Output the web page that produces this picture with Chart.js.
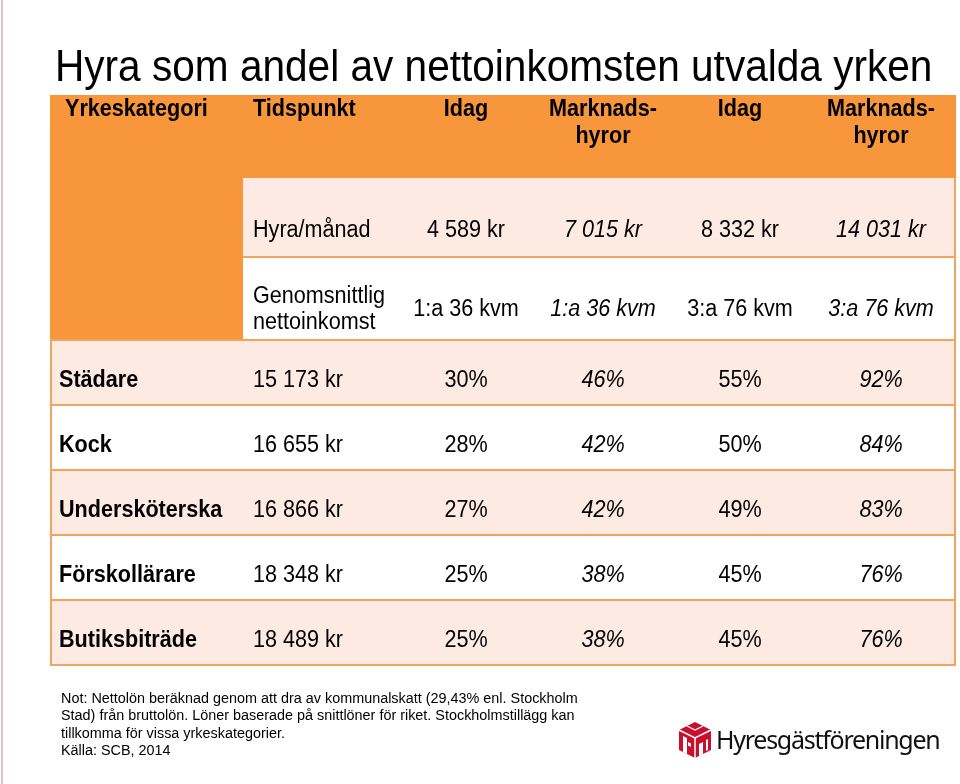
<!DOCTYPE html>
<html>
<head>
<meta charset="utf-8">
<script src="https://cdn.jsdelivr.net/npm/chart.js@4.4.1/dist/chart.umd.min.js"></script>
<style>
  html, body { margin: 0; padding: 0; background: #fff; }
  #wrap { position: relative; width: 960px; height: 784px; overflow: hidden; }
  #edge { position: absolute; left: 1px; top: 0; width: 2px; height: 784px; background: #dcc3cb; }
  #title { position: absolute; left: 55px; top: 46px; font: 40.6px 'Liberation Sans', Arial, sans-serif; line-height: 40px; color: #000; white-space: nowrap; transform: scaleY(1.08); transform-origin: 0 50%; }
  #note { position: absolute; left: 61px; top: 689px; font: 14.4px 'Liberation Sans', Arial, sans-serif; line-height: 16.4px; color: #000; white-space: nowrap; transform: scaleY(1.06); transform-origin: 0 0; }
  #logo { position: absolute; left: 678px; top: 721px; }
  #logoText { position: absolute; left: 716px; top: 722px; font: 25px 'Noto Sans', 'Open Sans', sans-serif; line-height: 34px; color: #111; white-space: nowrap; }
</style>
</head>
<body>
<div id="wrap">
  <div id="edge"></div>
  <canvas id="chart"></canvas>
  <div id="title">Hyra som andel av nettoinkomsten utvalda yrken</div>
  <div id="note">Not: Nettolön beräknad genom att dra av kommunalskatt (29,43% enl. Stockholm<br>Stad) från bruttolön. Löner baserade på snittlöner för riket. Stockholmstillägg kan<br>tillkomma för vissa yrkeskategorier.<br>Källa: SCB, 2014</div>
  <svg id="logo" width="34" height="38" viewBox="0 0 34 38">
    <polygon points="1,9 17,1 33,9 33,29 17,37 1,29" fill="#c8102e"/>
    <polyline points="1,9 17,17 33,9" fill="none" stroke="#fff" stroke-width="1.5"/>
    <line x1="17" y1="17" x2="17" y2="37" stroke="#fff" stroke-width="1.5"/>
    <polygon points="5,15 9,17 9,33 5,31" fill="#fff"/>
    <polygon points="10,21 13,22.5 13,26 10,24.5" fill="#fff"/>
    <polygon points="21,23 25,21 25,33 21,35" fill="#fff"/>
    <polygon points="28,19 30,18 30,29 28,30" fill="#fff"/>
    <polyline points="9,5 17,9 25,5" fill="none" stroke="#fff" stroke-width="1.2"/>
  </svg>
  <div id="logoText">Hyresgästföreningen</div>
</div>
<script>
// table content
const columns = ['Yrkeskategori', 'Tidspunkt', 'Idag', 'Marknads-\nhyror', 'Idag', 'Marknads-\nhyror'];
const rentRow = ['Hyra/månad', '4 589 kr', '7 015 kr', '8 332 kr', '14 031 kr'];
const sizeRow = ['Genomsnittlig\nnettoinkomst', '1:a 36 kvm', '1:a 36 kvm', '3:a 76 kvm', '3:a 76 kvm'];
const occupations = ['Städare', 'Kock', 'Undersköterska', 'Förskollärare', 'Butiksbiträde'];
const netIncome = ['15 173 kr', '16 655 kr', '16 866 kr', '18 348 kr', '18 489 kr'];
const shareToday1 = [30, 28, 27, 25, 25];
const shareMarket1 = [46, 42, 42, 38, 38];
const shareToday3 = [55, 50, 49, 45, 45];
const shareMarket3 = [92, 84, 83, 76, 76];

// layout (relative widths/heights of the grid)
const colWidths = [193, 157, 132, 142, 132, 150];
const rowHeights = [83, 79, 83, 65, 65, 65, 65, 65];
const italicCols = [3, 5];

const ORANGE = '#f7963a';
const PINK = '#fdebe3';
const LINE = '#f2a45e';
const FONT = "'Liberation Sans', Arial, sans-serif";

var rows = [];
rows.push({ kind: 'header', cells: columns });
rows.push({ kind: 'rent', cells: [''].concat(rentRow) });
rows.push({ kind: 'size', cells: [''].concat(sizeRow) });
for (var i = 0; i < occupations.length; i++) {
    rows.push({
        kind: 'data',
        cells: [occupations[i], netIncome[i], shareToday1[i] + '%', shareMarket1[i] + '%', shareToday3[i] + '%', shareMarket3[i] + '%']
    });
}

function cumulative(arr) {
    var out = [0];
    for (var i = 0; i < arr.length; i++) out.push(out[i] + arr[i]);
    return out;
}
var colEdges = cumulative(colWidths);
var rowEdges = cumulative(rowHeights);

const tablePlugin = {
    id: 'tableCells',
    beforeDatasetsDraw: function(chart) {
        var ctx = chart.ctx;
        var x = chart.scales.x, y = chart.scales.y;
        var px = function(v) { return x.getPixelForValue(v); };
        var py = function(v) { return y.getPixelForValue(v); };

        ctx.save();
        // cell backgrounds
        for (var r = 0; r < rows.length; r++) {
            for (var c = 0; c < colWidths.length; c++) {
                var fill = '#ffffff';
                if (r === 0 || (c === 0 && r < 3)) fill = ORANGE;
                else if (r === 1) fill = PINK;
                else if (r >= 3 && (r - 3) % 2 === 0) fill = PINK;
                ctx.fillStyle = fill;
                var x0 = Math.round(px(colEdges[c])), x1 = Math.round(px(colEdges[c + 1]));
                var y0 = Math.round(py(rowEdges[r])), y1 = Math.round(py(rowEdges[r + 1]));
                ctx.fillRect(x0, y0, x1 - x0, y1 - y0);
            }
        }

        // grid lines
        ctx.strokeStyle = LINE;
        ctx.lineWidth = 2;
        var left = px(0), right = px(colEdges[colEdges.length - 1]);
        function hline(rv, fromCol) {
            ctx.beginPath();
            ctx.moveTo(px(colEdges[fromCol]), py(rowEdges[rv]));
            ctx.lineTo(right, py(rowEdges[rv]));
            ctx.stroke();
        }
        hline(2, 1);
        for (var k = 3; k < rowEdges.length; k++) hline(k, 0);
        ctx.beginPath();
        ctx.moveTo(left + 1, py(rowEdges[3]));
        ctx.lineTo(left + 1, py(rowEdges[rowEdges.length - 1]));
        ctx.moveTo(right - 1, py(rowEdges[1]));
        ctx.lineTo(right - 1, py(rowEdges[rowEdges.length - 1]));
        ctx.stroke();

        // texts (source glyphs are slightly taller than wide)
        ctx.fillStyle = '#000';
        ctx.textBaseline = 'middle';
        for (var r2 = 0; r2 < rows.length; r2++) {
            var row = rows[r2];
            var top = py(rowEdges[r2]), bot = py(rowEdges[r2 + 1]);
            var lineH = row.kind === 'header' ? 27 : 26;
            for (var c2 = 0; c2 < row.cells.length; c2++) {
                var txt = row.cells[c2];
                if (!txt) continue;
                var lines = txt.split('\n');
                var bold = row.kind === 'header' || c2 === 0;
                var italic = row.kind !== 'header' && italicCols.indexOf(c2) >= 0;
                ctx.font = (italic ? 'italic ' : '') + (bold ? 'bold ' : '') + '21.6px ' + FONT;
                var tx, align;
                if (c2 === 0) { tx = px(colEdges[0]) + (row.kind === 'header' ? 15 : 9); align = 'left'; }
                else if (c2 === 1) { tx = px(colEdges[1]) + 10; align = 'left'; }
                else { tx = (px(colEdges[c2]) + px(colEdges[c2 + 1])) / 2; align = 'center'; }
                ctx.textAlign = align;
                var cy;
                if (row.kind === 'header') cy = top + 15;
                else if (row.kind === 'rent') cy = top + (bot - top) * 0.66;
                else cy = top + (bot - top) * 0.63 - (lines.length - 1) * lineH / 2;
                for (var l = 0; l < lines.length; l++) {
                    ctx.save();
                    ctx.translate(tx, cy + l * lineH);
                    ctx.scale(1, 1.08);
                    ctx.fillText(lines[l], 0, 0);
                    ctx.restore();
                }
            }
        }
        ctx.restore();
    }
};

var canvas = document.getElementById('chart');
canvas.width = 960;
canvas.height = 784;
canvas.style.width = '960px';
canvas.style.height = '784px';

new Chart(canvas.getContext('2d'), {
    type: 'scatter',
    data: { datasets: [] },
    options: {
        responsive: false,
        animation: false,
        devicePixelRatio: 1,
        layout: { padding: { left: 50, top: 95, right: 4, bottom: 119 } },
        plugins: { legend: { display: false }, tooltip: { enabled: false }, title: { display: false } },
        scales: {
            x: { type: 'linear', display: false, min: 0, max: colEdges[colEdges.length - 1] },
            y: { type: 'linear', display: false, reverse: true, min: 0, max: rowEdges[rowEdges.length - 1] }
        }
    },
    plugins: [tablePlugin]
});

// fit the logo word mark to its width in the source
var logoText = document.getElementById('logoText');
var extra = 224 - logoText.offsetWidth;
logoText.style.letterSpacing = (extra / logoText.textContent.length) + 'px';
</script>
</body>
</html>
